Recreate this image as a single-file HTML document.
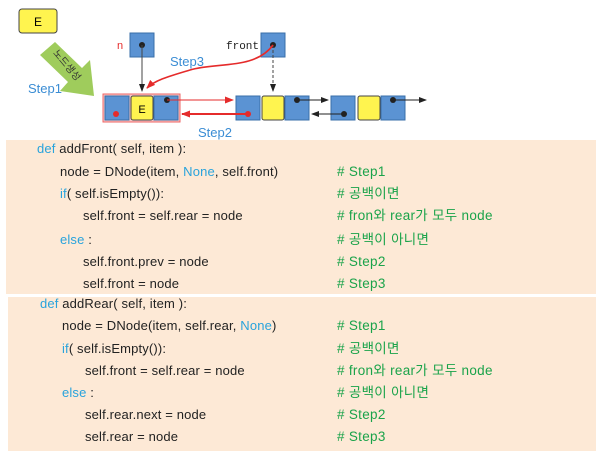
<!DOCTYPE html>
<html><head><meta charset="utf-8"><style>
body{margin:0;width:602px;height:456px;background:#fff;position:relative;font-family:"Liberation Sans","Noto Sans CJK KR",sans-serif;overflow:hidden}
.box{position:absolute;background:#fde9d6}
.l{position:absolute;font-size:13px;color:#222;white-space:nowrap;line-height:16px;letter-spacing:0.15px}
.k{color:#29a3dc}.c{color:#1aa34a;font-size:13.5px;letter-spacing:0.3px}
</style></head><body>
<svg width="602" height="140" style="position:absolute;left:0;top:0">
<defs>
<marker id="ab" markerWidth="8" markerHeight="8" refX="7" refY="4" orient="auto" markerUnits="userSpaceOnUse"><path d="M0,1 L8,4 L0,7 Z" fill="#222"/></marker>
<marker id="ar" markerWidth="9" markerHeight="9" refX="8" refY="4.5" orient="auto" markerUnits="userSpaceOnUse"><path d="M0,1 L9,4.5 L0,8 Z" fill="#e52b2b"/></marker>
</defs>
<rect x="19" y="9" width="38" height="24" rx="3" fill="#fff44f" stroke="#444"/>
<text x="38" y="26" font-size="12" text-anchor="middle" font-family="Liberation Sans">E</text>
<polygon points="40,55 55,42 82,68 90,60 94,96 60,91 68,82" fill="#9fcc5c"/>
<text x="66" y="68" font-size="10" fill="#333" transform="rotate(50 66 66)" text-anchor="middle" font-family="Noto Sans CJK KR">노드생성</text>
<text x="28" y="93" font-size="13" fill="#3b8dd4">Step1</text>
<text x="117" y="49" font-size="11" fill="#e52b2b">n</text>
<rect x="130" y="33" width="24" height="24" fill="#5b93d3" stroke="#3a6fa8"/>
<circle cx="142" cy="45" r="3" fill="#222"/>
<text x="226" y="49" font-size="11" fill="#222" font-family="Liberation Mono">front</text>
<rect x="261" y="33" width="24" height="24" fill="#5b93d3" stroke="#3a6fa8"/>
<circle cx="273" cy="45" r="3" fill="#222"/>
<text x="170" y="66" font-size="13" fill="#3b8dd4">Step3</text>
<line x1="142" y1="45" x2="142" y2="91" stroke="#444" marker-end="url(#ab)"/>
<line x1="273" y1="45" x2="273" y2="91" stroke="#444" stroke-dasharray="3,2" marker-end="url(#ab)"/>
<path d="M273,45 C255,70 215,62 190,70 C170,76 155,80 147,88" fill="none" stroke="#e52b2b" stroke-width="1.6" marker-end="url(#ar)"/>
<rect x="103" y="94" width="77" height="28" fill="#f9c8c8" stroke="#e66"/>
<rect x="105" y="96" width="24" height="24" fill="#5b93d3" stroke="#3a6fa8"/>
<rect x="131" y="96" width="22" height="24" rx="2" fill="#fff44f" stroke="#444"/>
<text x="142" y="113" font-size="11" text-anchor="middle">E</text>
<rect x="154" y="96" width="24" height="24" fill="#5b93d3" stroke="#3a6fa8"/>
<circle cx="116" cy="114" r="3" fill="#e52b2b"/>
<circle cx="167" cy="100" r="3" fill="#222"/>
<rect x="236" y="96" width="24" height="24" fill="#5b93d3" stroke="#3a6fa8"/>
<rect x="262" y="96" width="22" height="24" rx="2" fill="#fff44f" stroke="#444"/>
<rect x="285" y="96" width="24" height="24" fill="#5b93d3" stroke="#3a6fa8"/>
<rect x="331" y="96" width="24" height="24" fill="#5b93d3" stroke="#3a6fa8"/>
<rect x="358" y="96" width="22" height="24" rx="2" fill="#fff44f" stroke="#444"/>
<rect x="381" y="96" width="24" height="24" fill="#5b93d3" stroke="#3a6fa8"/>
<line x1="167" y1="100" x2="233" y2="100" stroke="#e52b2b" marker-end="url(#ar)"/>
<line x1="248" y1="114" x2="182" y2="114" stroke="#e52b2b" stroke-width="2" marker-end="url(#ar)"/>
<circle cx="248" cy="114" r="3" fill="#e52b2b"/>
<circle cx="297" cy="100" r="3" fill="#222"/>
<line x1="297" y1="100" x2="328" y2="100" stroke="#222" marker-end="url(#ab)"/>
<circle cx="344" cy="114" r="3" fill="#222"/>
<line x1="344" y1="114" x2="312" y2="114" stroke="#222" marker-end="url(#ab)"/>
<circle cx="393" cy="100" r="3" fill="#222"/>
<line x1="393" y1="100" x2="426" y2="100" stroke="#222" marker-end="url(#ab)"/>
<text x="198" y="137" font-size="13" fill="#3b8dd4">Step2</text>
</svg>
<div class="box" style="left:6px;top:140px;width:590px;height:154px"></div>
<div class="box" style="left:8px;top:297px;width:588px;height:154px"></div>
<div class="l" style="left:37px;top:141px"><span class="k">def</span> addFront( self, item ):</div>
<div class="l" style="left:60px;top:164px">node = DNode(item, <span class="k">None</span>, self.front)</div>
<div class="l" style="left:60px;top:186px"><span class="k">if</span>( self.isEmpty()):</div>
<div class="l" style="left:83px;top:208px">self.front = self.rear = node</div>
<div class="l" style="left:60px;top:232px"><span class="k">else</span> :</div>
<div class="l" style="left:83px;top:254px">self.front.prev = node</div>
<div class="l" style="left:83px;top:276px">self.front = node</div>
<div class="l c" style="left:337px;top:164px"># Step1</div>
<div class="l c" style="left:337px;top:186px"># 공백이면</div>
<div class="l c" style="left:337px;top:208px"># fron와 rear가 모두 node</div>
<div class="l c" style="left:337px;top:232px"># 공백이 아니면</div>
<div class="l c" style="left:337px;top:254px"># Step2</div>
<div class="l c" style="left:337px;top:276px"># Step3</div>
<div class="l" style="left:40px;top:296px"><span class="k">def</span> addRear( self, item ):</div>
<div class="l" style="left:62px;top:318px">node = DNode(item, self.rear, <span class="k">None</span>)</div>
<div class="l" style="left:62px;top:341px"><span class="k">if</span>( self.isEmpty()):</div>
<div class="l" style="left:85px;top:363px">self.front = self.rear = node</div>
<div class="l" style="left:62px;top:385px"><span class="k">else</span> :</div>
<div class="l" style="left:85px;top:407px">self.rear.next = node</div>
<div class="l" style="left:85px;top:429px">self.rear = node</div>
<div class="l c" style="left:337px;top:318px"># Step1</div>
<div class="l c" style="left:337px;top:341px"># 공백이면</div>
<div class="l c" style="left:337px;top:363px"># fron와 rear가 모두 node</div>
<div class="l c" style="left:337px;top:385px"># 공백이 아니면</div>
<div class="l c" style="left:337px;top:407px"># Step2</div>
<div class="l c" style="left:337px;top:429px"># Step3</div>
</body></html>
